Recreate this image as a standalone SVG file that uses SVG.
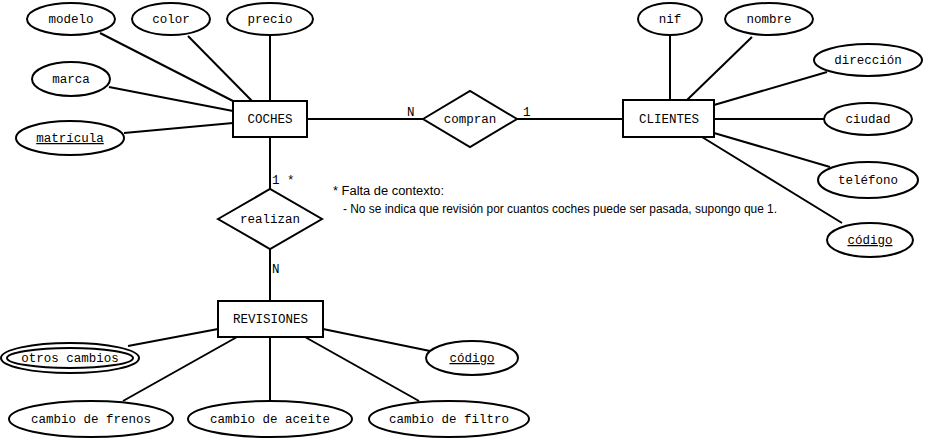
<svg xmlns="http://www.w3.org/2000/svg" width="926" height="438" viewBox="0 0 926 438">
<style>
.s{fill:#fff;stroke:#000;stroke-width:2}
.c line{stroke:#000;stroke-width:2}
.t{font-family:"Liberation Mono","Courier New",monospace;font-size:12.5px;fill:#000;text-anchor:middle}
.l{font-family:"Liberation Mono","Courier New",monospace;font-size:12.5px;fill:#000}
.u{text-decoration:underline}
.n{font-family:"Liberation Sans",Tahoma,sans-serif;font-size:12.5px;fill:#000}
</style>
<rect width="926" height="438" fill="#fff"/>
<g class="c" id="connectors">
<line x1="100" y1="33" x2="233" y2="101"/>
<line x1="188" y1="36" x2="252" y2="101"/>
<line x1="270" y1="35" x2="270" y2="101"/>
<line x1="109" y1="87" x2="233" y2="111"/>
<line x1="124" y1="133" x2="233" y2="123"/>
<line x1="307" y1="119" x2="423" y2="119"/>
<line x1="517" y1="119" x2="623" y2="119"/>
<line x1="670" y1="35" x2="670" y2="100"/>
<line x1="752" y1="37" x2="687" y2="100"/>
<line x1="827" y1="72" x2="714" y2="105"/>
<line x1="714" y1="119" x2="824" y2="119"/>
<line x1="714" y1="133" x2="830" y2="167"/>
<line x1="702" y1="137" x2="842" y2="223"/>
<line x1="270" y1="137" x2="270" y2="189"/>
<line x1="270" y1="249" x2="270" y2="301"/>
<line x1="128" y1="346" x2="218" y2="329"/>
<line x1="237" y1="337" x2="123" y2="401"/>
<line x1="270" y1="337" x2="270" y2="401"/>
<line x1="305" y1="337" x2="419" y2="401"/>
<line x1="323" y1="329" x2="430" y2="351"/>
<text class="l" x="407" y="116">N</text>
<text class="l" x="523" y="116">1</text>
<text class="l" x="272" y="184">1 *</text>
<text class="l" x="272" y="273">N</text>
</g>
<g id="coches"><rect class="s" x="233" y="101" width="74" height="36"/><text class="t" x="270" y="123">COCHES</text></g>
<g id="clientes"><rect class="s" x="623" y="100" width="91" height="37"/><text class="t" x="669" y="123">CLIENTES</text></g>
<g id="revisiones"><rect class="s" x="218" y="301" width="105" height="36"/><text class="t" x="270.5" y="323">REVISIONES</text></g>
<g id="compran"><polygon class="s" points="423,119 470,91 517,119 470,147"/><text class="t" x="470" y="123">compran</text></g>
<g id="realizan"><polygon class="s" points="218,219 270,189 322,219 270,249"/><text class="t" x="270" y="223">realizan</text></g>
<g id="modelo"><ellipse class="s" cx="71" cy="19" rx="44" ry="16"/><text class="t" x="71" y="23">modelo</text></g>
<g id="color"><ellipse class="s" cx="171" cy="19" rx="39" ry="16"/><text class="t" x="171" y="23">color</text></g>
<g id="precio"><ellipse class="s" cx="270" cy="19" rx="43" ry="16"/><text class="t" x="270" y="23">precio</text></g>
<g id="marca"><ellipse class="s" cx="71" cy="79" rx="39" ry="17"/><text class="t" x="71" y="83">marca</text></g>
<g id="matricula"><ellipse class="s" cx="70" cy="138" rx="54" ry="17"/><text class="t u" x="70" y="142">matrícula</text></g>
<g id="nif"><ellipse class="s" cx="670" cy="19" rx="32" ry="16"/><text class="t" x="670" y="23">nif</text></g>
<g id="nombre"><ellipse class="s" cx="769" cy="19" rx="44" ry="16"/><text class="t" x="769" y="23">nombre</text></g>
<g id="direccion"><ellipse class="s" cx="868" cy="60" rx="54" ry="16"/><text class="t" x="868" y="64">dirección</text></g>
<g id="ciudad"><ellipse class="s" cx="868" cy="119" rx="44" ry="16"/><text class="t" x="868" y="123">ciudad</text></g>
<g id="telefono"><ellipse class="s" cx="868" cy="180" rx="50" ry="18"/><text class="t" x="868" y="184">teléfono</text></g>
<g id="codigo-clientes"><ellipse class="s" cx="870" cy="240" rx="43" ry="17"/><text class="t u" x="870" y="244">código</text></g>
<g id="otros-cambios"><ellipse class="s" cx="70" cy="358" rx="69" ry="15"/><ellipse class="s" cx="70" cy="358" rx="63" ry="10"/><text class="t" x="70" y="362">otros cambios</text></g>
<g id="codigo-revisiones"><ellipse class="s" cx="472" cy="358" rx="46" ry="17"/><text class="t u" x="472" y="362">código</text></g>
<g id="cambio-frenos"><ellipse class="s" cx="91" cy="419" rx="82" ry="18"/><text class="t" x="91" y="423">cambio de frenos</text></g>
<g id="cambio-aceite"><ellipse class="s" cx="270" cy="419" rx="82" ry="18"/><text class="t" x="270" y="423">cambio de aceite</text></g>
<g id="cambio-filtro"><ellipse class="s" cx="449" cy="419" rx="80" ry="18"/><text class="t" x="449" y="423">cambio de filtro</text></g>
<g id="nota">
<text class="n" x="333" y="195" textLength="111" lengthAdjust="spacingAndGlyphs">* Falta de contexto:</text>
<text class="n" x="343" y="213" textLength="434" lengthAdjust="spacingAndGlyphs">- No se indica que revisión por cuantos coches puede ser pasada, supongo que 1.</text>
</g>
</svg>
